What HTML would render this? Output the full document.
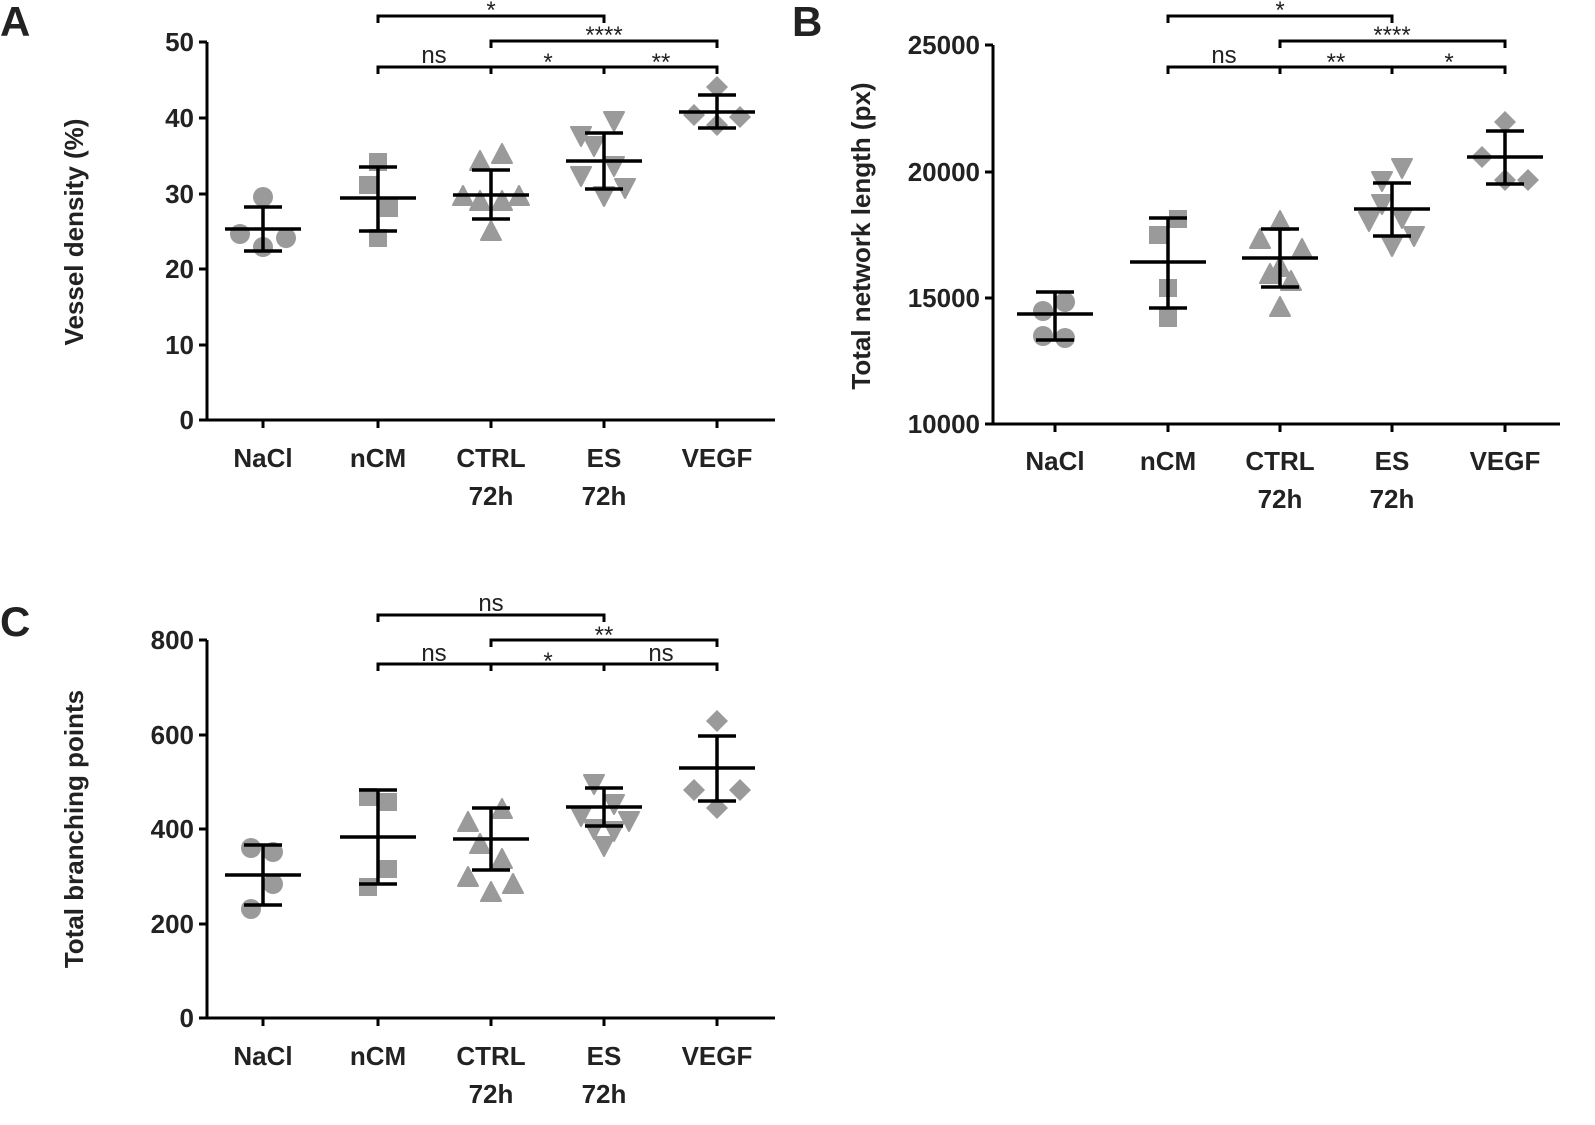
<!DOCTYPE html>
<html><head><meta charset="utf-8"><style>
html,body{margin:0;padding:0;background:#fff;}
svg{display:block;font-family:"Liberation Sans",sans-serif;font-weight:bold;}
</style></head><body>
<svg id="s" width="1595" height="1125" viewBox="0 0 1595 1125" xmlns="http://www.w3.org/2000/svg">
<g stroke="#000" stroke-width="3" fill="none" id="ax">
<path d="M207,42V420H775"/>
<path d="M199,42H207M199,118H207M199,194H207M199,269H207M199,345H207M199,420H207"/>
<path d="M263,420v8M378,420v8M491,420v8M604,420v8M717,420v8"/>
<path d="M993,45V424H1560"/>
<path d="M985,45H993M985,172H993M985,298H993M985,424H993"/>
<path d="M1055,424v8M1168,424v8M1280,424v8M1392,424v8M1505,424v8"/>
<path d="M207,640V1018H775"/>
<path d="M199,640H207M199,735H207M199,829H207M199,924H207M199,1018H207"/>
<path d="M263,1018v8M378,1018v8M491,1018v8M604,1018v8M717,1018v8"/>
<path d="M378,23V16H604V23M491,48V41H717V48M378,74V67H717V74M491,67V74M604,67V74"/>
<path d="M1168,23V16H1392V23M1280,48V41H1505V48M1168,74V67H1505V74M1280,67V74M1392,67V74"/>
<path d="M378,622V615H604V622M491,647V640H717V647M378,671V664H717V671M491,664V671M604,664V671"/>
</g>
<g id="data"></g>
<g font-size="26" fill="#222">
<text x="0" y="36" font-size="42">A</text>
<text x="792" y="36" font-size="42">B</text>
<text x="0" y="636" font-size="42">C</text>
<g text-anchor="end">
<text x="194" y="51">50</text><text x="194" y="127">40</text><text x="194" y="203">30</text><text x="194" y="278">20</text><text x="194" y="354">10</text><text x="194" y="429">0</text>
<text x="980" y="54">25000</text><text x="980" y="181">20000</text><text x="980" y="307">15000</text><text x="980" y="433">10000</text>
<text x="194" y="649">800</text><text x="194" y="744">600</text><text x="194" y="838">400</text><text x="194" y="933">200</text><text x="194" y="1027">0</text>
</g>
<g text-anchor="middle">
<text x="263" y="467">NaCl</text><text x="378" y="467">nCM</text><text x="491" y="467">CTRL</text><text x="491" y="505">72h</text><text x="604" y="467">ES</text><text x="604" y="505">72h</text><text x="717" y="467">VEGF</text>
<text x="1055" y="470">NaCl</text><text x="1168" y="470">nCM</text><text x="1280" y="470">CTRL</text><text x="1280" y="508">72h</text><text x="1392" y="470">ES</text><text x="1392" y="508">72h</text><text x="1505" y="470">VEGF</text>
<text x="263" y="1065">NaCl</text><text x="378" y="1065">nCM</text><text x="491" y="1065">CTRL</text><text x="491" y="1103">72h</text><text x="604" y="1065">ES</text><text x="604" y="1103">72h</text><text x="717" y="1065">VEGF</text>
<text transform="translate(83,232) rotate(-90)">Vessel density (%)</text>
<text transform="translate(870,236) rotate(-90)">Total network length (px)</text>
<text transform="translate(83,829) rotate(-90)">Total branching points</text>
</g>
<g text-anchor="middle" font-size="24" font-weight="normal">
<text x="491" y="18">*</text><text x="604" y="43">****</text><text x="434" y="63">ns</text><text x="548" y="70">*</text><text x="661" y="70">**</text>
<text x="1280" y="18">*</text><text x="1392" y="43">****</text><text x="1224" y="63">ns</text><text x="1336" y="70">**</text><text x="1449" y="70">*</text>
<text x="491" y="611">ns</text><text x="604" y="643">**</text><text x="434" y="661">ns</text><text x="548" y="669">*</text><text x="661" y="661">ns</text>
</g>
</g>
</svg>
<script>
var G=document.getElementById('data'),NS='http://www.w3.org/2000/svg';
function el(t,a){var e=document.createElementNS(NS,t);for(var k in a)e.setAttribute(k,a[k]);G.appendChild(e);return e;}
function mk(type,x,y){var c='#9a9a9a';
 if(type=='c')el('circle',{cx:x,cy:y,r:10,fill:c});
 else if(type=='s')el('rect',{x:x-9,y:y-9,width:18,height:18,fill:c});
 else if(type=='u')el('polygon',{points:(x)+','+(y-11)+' '+(x-10)+','+(y+8)+' '+(x+10)+','+(y+8),fill:c,stroke:c,'stroke-width':2,'stroke-linejoin':'round'});
 else if(type=='d')el('polygon',{points:(x)+','+(y+11)+' '+(x-10)+','+(y-8)+' '+(x+10)+','+(y-8),fill:c,stroke:c,'stroke-width':2,'stroke-linejoin':'round'});
 else el('polygon',{points:x+','+(y-11)+' '+(x+11)+','+y+' '+x+','+(y+11)+' '+(x-11)+','+y,fill:c});}
function grp(cx,type,pts,m,t,b){pts.forEach(function(p){mk(type,cx+p[0],p[1]);});
 var s={stroke:'#000','stroke-width':3.5,fill:'none'};
 s.d='M'+(cx-38)+','+m+'H'+(cx+38)+'M'+cx+','+t+'V'+b+'M'+(cx-19)+','+t+'H'+(cx+19)+'M'+(cx-19)+','+b+'H'+(cx+19);el('path',s);}
grp(263,'c',[[0,197],[-23,234],[0,247],[23,238]],229,207,251);
grp(378,'s',[[0,162],[-10,185],[11,208],[0,238]],198,167,231);
grp(491,'u',[[-28,197],[-11,162],[11,155],[-11,202],[11,202],[28,197],[0,232]],195,170,219);
grp(604,'d',[[-23,135],[-10,145],[10,120],[10,165],[-23,175],[0,195],[21,187]],161,133,189);
grp(717,'v',[[0,87],[-23,115],[0,125],[23,117]],112,95,128);
grp(1055,'c',[[-12,311],[10,302],[-12,336],[10,338]],314,292,340);
grp(1168,'s',[[10,219],[-10,235],[0,288],[0,318]],262,218,308);
grp(1280,'u',[[-20,240],[0,222],[22,250],[0,268],[-10,275],[11,282],[0,308]],258,229,287);
grp(1392,'d',[[-10,180],[10,167],[-10,203],[10,217],[-23,220],[22,235],[0,245]],209,183,236);
grp(1505,'v',[[0,122],[-23,157],[0,180],[23,180]],157,131,184);
grp(263,'c',[[-12,848],[10,852],[10,884],[-12,909]],875,845,905);
grp(378,'s',[[-10,797],[10,802],[10,869],[-10,887]],837,790,884);
grp(491,'u',[[11,810],[-23,823],[-11,845],[11,860],[-23,878],[0,893],[22,885]],839,808,870);
grp(604,'d',[[-10,783],[10,803],[-23,815],[-10,828],[10,830],[25,820],[0,845]],807,788,826);
grp(717,'v',[[0,721],[-23,790],[23,790],[0,808]],768,736,801);
</script>
</body></html>
